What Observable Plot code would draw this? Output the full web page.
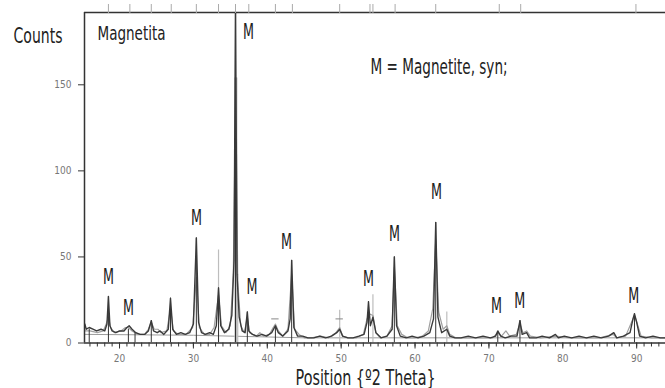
<!DOCTYPE html>
<html><head><meta charset="utf-8">
<script src="https://cdn.jsdelivr.net/npm/d3@7"></script>
<script src="https://cdn.jsdelivr.net/npm/@observablehq/plot@0.6"></script>
<style>body{margin:0;background:#fff;}</style>
</head><body><div id="chart"></div>
<script>
// Observed pattern (dark line): 2θ and counts
const obsTheta = [15.3,15.5,15.9,16.4,16.9,17.5,18.0,18.3,18.5,18.7,19.0,19.5,20.0,20.6,21.0,21.3,21.7,22.2,22.8,23.4,23.9,24.3,24.6,25.1,25.5,26.0,26.6,26.9,27.2,27.7,28.3,28.9,29.5,30.0,30.4,30.7,31.1,31.6,32.2,32.7,33.1,33.4,33.7,34.2,34.8,35.2,35.5,35.7,35.9,36.2,36.6,37.0,37.3,37.5,38.0,38.6,39.3,39.9,40.6,41.1,41.5,42.1,42.8,43.1,43.3,43.6,44.1,44.8,45.5,46.3,47.1,47.9,48.7,49.4,49.8,50.2,50.9,51.6,52.4,53.1,53.5,53.7,53.95,54.3,54.7,55.4,56.2,56.9,57.2,57.5,58.0,58.8,59.6,60.4,61.2,62.0,62.5,62.8,63.1,63.6,64.3,64.7,65.4,66.2,67.2,68.2,69.2,70.2,70.9,71.2,71.6,72.2,73.0,73.8,74.2,74.5,75.1,75.5,76.4,77.2,78.2,79.0,79.4,80.2,81.2,82.2,83.2,84.2,85.2,86.2,86.9,87.3,88.2,89.1,89.5,89.7,90.0,90.4,91.2,92.2,93.2,93.9];
const obsCounts = [11,8,9,8,7,8,7,11,27,10,7,6,7,7,9,10,8,6,5,5,7,13,7,6,7,5,8,26,8,5,6,5,6,11,61,12,6,5,6,5,10,32,10,6,8,16,48,200,40,15,7,6,18,7,5,4,5,4,6,10,6,4,7,14,48,9,4,4,3,3,4,3,4,6,8,4,3,3,4,5,12,24,10,15,6,3,4,8,50,10,4,3,4,3,4,6,14,70,15,6,8,4,3,3,4,3,4,3,4,7,4,3,4,4,13,5,6,3,3,4,3,5,3,4,3,4,3,4,3,4,6,3,4,6,14,17,12,4,3,4,3,3];

// Second (light grey) profile
const calcTheta = [15.3,16.0,17.0,17.8,18.2,18.5,18.8,19.3,20.2,20.8,21.2,21.7,22.5,23.4,23.9,24.3,24.7,25.2,25.6,26.4,26.9,27.3,28.0,29.0,29.9,30.4,30.8,31.5,32.2,32.8,33.4,33.8,34.4,35.0,35.4,35.75,36.0,36.4,36.9,37.3,37.6,38.5,39.0,39.5,40.3,40.8,41.1,41.5,42.1,42.8,43.3,43.7,44.3,45.0,46.0,47.2,48.3,49.3,49.8,50.2,51.0,52.0,53.0,53.5,53.8,54.3,54.7,55.3,56.2,56.9,57.2,57.6,58.2,59.0,60.0,61.0,61.8,62.4,62.8,63.2,63.8,64.3,64.7,65.5,67.0,69.0,70.5,71.2,71.7,72.3,72.8,73.7,74.2,74.6,75.1,75.6,77.0,79.0,81.0,83.0,85.0,86.8,87.3,88.5,89.2,89.7,90.1,90.6,92.0,93.9];
const calcCounts = [7,7,6,7,11,15,9,6,7,9,9,7,5,5,8,12,8,8,6,7,20,7,5,5,9,38,9,5,5,9,28,10,6,10,40,154,36,10,6,15,6,4,6,4,5,9,11,7,4,8,40,8,5,3,3,4,3,6,9,4,3,3,5,14,17,16,6,3,4,10,44,10,5,3,3,4,7,20,60,18,8,10,5,3,3,3,3,6,4,7,4,5,11,6,7,4,3,4,3,3,3,5,3,4,11,16,11,4,3,3];

// Fitted background
const bgTheta = [15.3, 30, 45, 93.9];
const bgCounts = [5, 4.5, 3, 3];

// Reference pattern sticks (dark) and extra light sticks
const stickPos = [15.9,18.5,21.2,22.1,24.3,26.9,30.4,33.4,35.7,37.3,41.1,43.3,53.7,57.2,62.8,71.2,74.2,89.7];
const stickH   = [8,27,8,6,13,26,61,32,200,18,9,48,24,50,70,6,13,17];
const lightStickPos = [33.4,35.75,36.0,49.8,54.3,64.3];
const lightStickH   = [54,154,40,19,28,18];
const lightStickW   = [1.2,3,1.2,1.2,1.2,1.2];

// Top reference ticks
const topTickPos = [18.5,21.4,24.3,27.0,30.4,33.4,35.7,37.5,41.1,43.4,49.8,53.9,54.3,57.3,62.8,71.4,74.3,89.9];

// Error marks
const errX = [41.1, 49.8];
const errY = [14, 14];

// "M" peak labels
const mX = [18.51,21.22,30.43,37.47,37.94,42.61,53.71,57.23,62.92,71.04,74.16,89.59];
const mY = [38.6,20.6,72.8,180.8,32.8,58.9,37.4,63.6,87.9,21.8,24.7,27.6];

// Axis ticks
const xMajor = [20,30,40,50,60,70,80,90];
const xMinor = d3.range(16, 94, 1);
const yTicks = [0,50,100,150];
const xDomain = [15.26, 93.9];
const yDomain = [0, 192];

// Free text
const labelText = ["Counts", "Magnetita", "M = Magnetite, syn;", "Position {º2 Theta}"];
const labelX = [5.65, 17.02, 53.98, 43.83];
const labelY = [178.2, 179.9, 160.5, -20.2];
const labelSize = [20.5, 20, 22, 21];
const labelLen = [49, 68, 137, 140];

const obs = obsTheta.map((x,i)=>({x, y: obsCounts[i]}));
const calc = calcTheta.map((x,i)=>({x, y: calcCounts[i]}));
const bg = bgTheta.map((x,i)=>({x, y: bgCounts[i]}));
const sticks = stickPos.map((x,i)=>({x, h: stickH[i]}));
const lsticks = lightStickPos.map((x,i)=>({x, h: lightStickH[i], w: lightStickW[i]}));
const errs = errX.map((x,i)=>({x, y: errY[i]}));
const mLabels = mX.map((x,i)=>({x, y: mY[i]}));
const labels = labelText.map((t,i)=>({t, x: labelX[i], y: labelY[i], s: labelSize[i], len: labelLen[i]}));

const font = "'DejaVu Sans Condensed', 'DejaVu Sans', sans-serif";

const chart = Plot.plot({
  width: 665, height: 388,
  marginLeft: 84, marginRight: 0, marginTop: 12, marginBottom: 45.5,
  x: {domain: xDomain, axis: null},
  y: {domain: yDomain, axis: null},
  style: {fontFamily: font, background: "#fff", overflow: "visible"},
  marks: [
    Plot.line(bg, {x: "x", y: "y", stroke: "#9c9c9c", strokeWidth: 1}),
    Plot.ruleX(lsticks, {x: "x", y1: 0, y2: "h", stroke: "#bdbdbd", strokeWidth: "w", clip: true}),
    Plot.line(calc, {x: "x", y: "y", stroke: "#a0a0a0", strokeWidth: 1.2, clip: true}),
    Plot.ruleX(sticks, {x: "x", y1: 0, y2: "h", stroke: "#333", strokeWidth: 1, clip: true}),
    Plot.line(obs, {x: "x", y: "y", stroke: "#3a3a3a", strokeWidth: 1.4, clip: true}),
    Plot.ruleY(errs, {y: "y", x1: d => d.x - 0.5, x2: d => d.x + 0.5, stroke: "#888", strokeWidth: 1}),
    // frame lines
    Plot.ruleY([yDomain[0]], {stroke: "#333", strokeWidth: 1.5}),
    Plot.ruleY([yDomain[1]], {stroke: "#333", strokeWidth: 1.5}),
    Plot.ruleX([xDomain[0]], {stroke: "#333", strokeWidth: 1.5}),
    // axes
    Plot.axisX({ticks: xMinor, tickSize: 4, tickFormat: () => "", stroke: "#333", label: null}),
    Plot.axisX({ticks: xMajor, tickSize: 6, tickPadding: 6, fontSize: 10, fill: "#777", stroke: "#333", label: null}),
    Plot.axisX({anchor: "top", ticks: topTickPos, tickSize: 9, tickFormat: () => "", stroke: "#aaa", label: null}),
    Plot.axisY({ticks: yTicks, tickSize: 6, tickPadding: 7, fontSize: 10, fill: "#777", stroke: "#333", label: null}),
    // labels
    Plot.text(mLabels, {x: "x", y: "y", text: () => "M", fontSize: 22, fill: "#222", textAnchor: "middle", lineAnchor: "middle"}),
    Plot.text(labels, {x: "x", y: "y", text: "t", fontSize: "s", fill: "#222", textAnchor: "start", lineAnchor: "middle"})
  ]
});
document.getElementById("chart").appendChild(chart);

// Compress glyphs to match the condensed typeface of the original
d3.select(chart).selectAll("text").each(function() {
  const el = d3.select(this);
  const t = el.text();
  if (t === "M") {
    el.attr("textLength", 11).attr("lengthAdjust", "spacingAndGlyphs");
  } else {
    const lab = labels.find(l => l.t === t);
    if (lab) el.attr("textLength", lab.len).attr("lengthAdjust", "spacingAndGlyphs");
  }
});
</script>
</body></html>
